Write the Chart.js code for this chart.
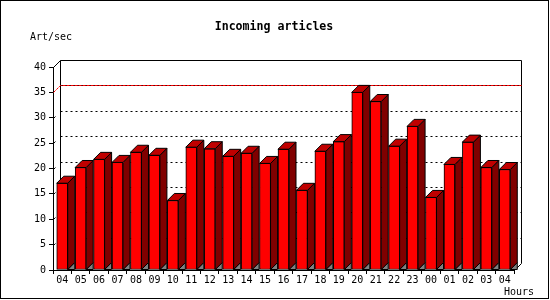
<!DOCTYPE html>
<html>
<head>
<meta charset="utf-8">
<script src="https://cdn.jsdelivr.net/npm/chart.js"></script>
<style>
  html, body { margin: 0; padding: 0; background: #fff; }
  canvas { display: block; }
</style>
</head>
<body>
<canvas id="myChart" width="550" height="300"></canvas>
<script>
// data
const hours = ['04','05','06','07','08','09','10','11','12','13','14','15','16',
               '17','18','19','20','21','22','23','00','01','02','03','04'];
const artPerSec = [17.1, 20.2, 21.8, 21.2, 23.2, 22.6, 13.7, 24.2, 23.9, 22.4, 23.0, 21.0, 23.8,
                   15.7, 23.4, 25.3, 35.0, 33.2, 24.4, 28.3, 14.3, 20.8, 25.2, 20.2, 19.8];
const yMax = 40;
const yStep = 5;
const redLineAt = 35;

const DX = 7, DY = 7;          // depth of the fake 3d
const mono = '"DejaVu Sans Mono", "Liberation Mono", monospace';

function poly(ctx, pts, fill) {
    ctx.beginPath();
    ctx.moveTo(pts[0][0], pts[0][1]);
    for (let i = 1; i < pts.length; i++) ctx.lineTo(pts[i][0], pts[i][1]);
    ctx.closePath();
    ctx.fillStyle = fill;
    ctx.fill();
    ctx.stroke();
}

// back wall + grid, drawn behind the bars
const backWall = {
    id: 'backWall',
    beforeDatasetsDraw(chart) {
        const ctx = chart.ctx;
        const a = chart.chartArea;
        const y = chart.scales.y;
        const L = Math.round(a.left) + 0.5, R = Math.round(a.right) + 0.5;
        const top = Math.round(y.getPixelForValue(yMax)) + 0.5;
        const bot = Math.round(y.getPixelForValue(0)) + 0.5;
        ctx.save();
        ctx.lineWidth = 1;
        ctx.strokeStyle = '#000';
        ctx.beginPath();
        ctx.moveTo(L, top); ctx.lineTo(L + DX, top - DY);
        ctx.lineTo(R + DX, top - DY); ctx.lineTo(R + DX, bot - DY);
        ctx.lineTo(R, bot);
        ctx.moveTo(L + DX, top - DY); ctx.lineTo(L + DX, bot - DY);
        ctx.stroke();

        for (let v = yStep; v < yMax; v += yStep) {
            const py = Math.round(y.getPixelForValue(v)) + 0.5;
            if (v === redLineAt) {
                // red dashes on a black line
                ctx.setLineDash([]);
                ctx.strokeStyle = '#000';
                ctx.beginPath();
                ctx.moveTo(L + DX, py - DY); ctx.lineTo(R + DX, py - DY);
                ctx.stroke();
                ctx.strokeStyle = '#ff0000';
                ctx.setLineDash([3, 1]);
                ctx.beginPath();
                ctx.moveTo(L, py); ctx.lineTo(L + DX, py - DY);
                ctx.lineTo(R + DX, py - DY);
                ctx.stroke();
            } else {
                ctx.strokeStyle = '#000';
                ctx.setLineDash([]);
                ctx.beginPath();
                ctx.moveTo(L, py); ctx.lineTo(L + 2, py - 2);
                ctx.stroke();
                ctx.setLineDash([2, 3]);
                ctx.beginPath();
                ctx.moveTo(L + DX, py - DY); ctx.lineTo(R + DX, py - DY);
                ctx.stroke();
            }
        }
        ctx.restore();
    },
    afterDatasetsDraw(chart) {
        // side and top faces of every bar
        const ctx = chart.ctx;
        const meta = chart.getDatasetMeta(0);
        ctx.save();
        ctx.lineWidth = 1;
        ctx.strokeStyle = '#000';
        meta.data.forEach(bar => {
            const p = bar.getProps(['x', 'y', 'base', 'width'], true);
            const xl = p.x - p.width / 2, xr = p.x + p.width / 2;
            const yt = p.y, yb = p.base;
            poly(ctx, [[xr, yb], [xr + DX, yb - DY], [xr + DX, yb]], '#808080');
            poly(ctx, [[xr, yt], [xr + DX, yt - DY], [xr + DX, yb - DY], [xr, yb]], '#800000');
            poly(ctx, [[xl, yt], [xl + DX, yt - DY], [xr + DX, yt - DY], [xr, yt]], '#c00000');
        });
        ctx.restore();
    },
    afterDraw(chart) {
        const ctx = chart.ctx;
        ctx.save();
        ctx.fillStyle = '#000';
        ctx.textBaseline = 'middle';
        ctx.font = 'bold 11.6px ' + mono;
        ctx.textAlign = 'center';
        ctx.fillText('Incoming articles', 274, 27);
        ctx.font = '10px ' + mono;
        ctx.textAlign = 'left';
        ctx.fillText('Art/sec', 30, 37);
        ctx.fillText('Hours', 504, 292);
        ctx.strokeStyle = '#000';
        ctx.lineWidth = 1;
        ctx.strokeRect(0.5, 0.5, 548, 298);
        ctx.restore();
    }
};

const config = {
    type: 'bar',
    data: {
        labels: hours,
        datasets: [{
            label: 'Art/sec',
            data: artPerSec,
            backgroundColor: '#ff0000',
            borderColor: '#000000',
            borderWidth: 1,
            borderSkipped: false,
            barThickness: 11
        }]
    },
    options: {
        responsive: false,
        animation: false,
        devicePixelRatio: 1,
        layout: { padding: { top: 67, right: 36, left: 0, bottom: 0 } },
        plugins: {
            legend: { display: false },
            title: { display: false },
            tooltip: { enabled: false }
        },
        scales: {
            x: {
                offset: true,
                grid: { offset: true, drawOnChartArea: false, tickLength: 4, color: '#000' },
                border: { color: '#000' },
                ticks: { color: '#000', padding: 0, maxRotation: 0, autoSkip: false,
                         font: { family: mono, size: 10 } },
                afterFit(scale) { scale.height = 30; }
            },
            y: {
                min: 0,
                max: yMax,
                grid: { drawOnChartArea: false, tickLength: 4, color: '#000' },
                border: { color: '#000' },
                ticks: { stepSize: yStep, color: '#000', padding: 3,
                         font: { family: mono, size: 10 } },
                afterFit(scale) { scale.width = 53; }
            }
        }
    },
    plugins: [backWall]
};

new Chart(document.getElementById('myChart'), config);
</script>
</body>
</html>
